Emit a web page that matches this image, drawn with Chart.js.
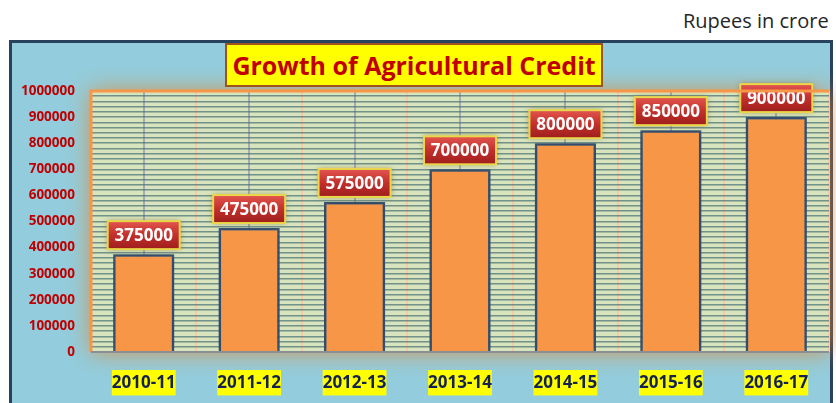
<!DOCTYPE html>
<html>
<head>
<meta charset="utf-8">
<script src="https://cdn.jsdelivr.net/npm/chart.js@4/dist/chart.umd.min.js"></script>
<style>
  body { margin: 0; width: 836px; height: 403px; overflow: hidden; background: #fff; position: relative; font-family: 'Open Sans', sans-serif; }
  #unit { position: absolute; left: 683px; top: 7px; font-size: 20px; color: #262626; }
  #panel { position: absolute; left: 9px; top: 40px; width: 818px; height: 400px; border: 3px solid #27425f; background: #93cddd; }
  #wrap { position: absolute; left: 0; top: 0; width: 836px; height: 403px; }
  #title { position: absolute; left: 225px; top: 43px; width: 374px; height: 40px; background: #ffff00; border: 2px solid #a0521e;
           color: #c00000; font: bold 25px 'Open Sans', sans-serif; text-align: center; line-height: 40px; }
</style>
</head>
<body>
<div id="unit">Rupees in crore</div>
<div id="panel"></div>
<div id="wrap"><canvas id="chart" width="836" height="403"></canvas></div>
<div id="title">Growth of Agricultural Credit</div>
<script>
"use strict";

const years = ['2010-11', '2011-12', '2012-13', '2013-14', '2014-15', '2015-16', '2016-17'];
const credit = [375000, 475000, 575000, 700000, 800000, 850000, 900000];
const yMax = 1000000;
const minorStep = 20000;
const labelStep = 100000;

// plot background with orange glow, plus frame
const plotBack = {
    id: 'plotBack',
    beforeDraw(chart) {
        const { ctx, chartArea: a } = chart;
        ctx.save();
        ctx.shadowColor = 'rgba(225,135,50,0.85)';
        ctx.shadowBlur = 22;
        ctx.fillStyle = '#d8e4bd';
        ctx.fillRect(a.left, a.top, a.right - a.left, a.bottom - a.top);
        ctx.restore();
    },
    afterDraw(chart) {
        const { ctx, chartArea: a } = chart;
        ctx.save();
        ctx.strokeStyle = '#f79646';
        ctx.lineWidth = 3;
        ctx.beginPath();
        ctx.moveTo(a.left, a.bottom);
        ctx.lineTo(a.left, a.top);
        ctx.lineTo(a.right, a.top);
        ctx.stroke();
        ctx.strokeStyle = '#8a8f96';
        ctx.lineWidth = 2;
        ctx.beginPath();
        ctx.moveTo(a.left, a.bottom);
        ctx.lineTo(a.right, a.bottom);
        ctx.stroke();
        ctx.restore();
    }
};

// bar shadow
const barShadow = {
    id: 'barShadow',
    beforeDatasetsDraw(chart) {
        const ctx = chart.ctx;
        ctx.save();
        ctx.shadowColor = 'rgba(30,50,80,0.8)';
        ctx.shadowBlur = 6;
    },
    afterDatasetsDraw(chart) {
        chart.ctx.restore();
    }
};

// red value boxes above bars
const valueBoxes = {
    id: 'valueBoxes',
    afterDatasetsDraw(chart) {
        const ctx = chart.ctx;
        const meta = chart.getDatasetMeta(0);
        meta.data.forEach((bar, i) => {
            const w = 72, h = 28;
            const x = bar.x - w / 2;
            const y = bar.y - 5 - h;
            ctx.save();
            ctx.shadowColor = 'rgba(120,100,40,0.6)';
            ctx.shadowBlur = 6;
            const g = ctx.createLinearGradient(0, y, 0, y + h);
            g.addColorStop(0, '#e2554f');
            g.addColorStop(0.5, '#c3302c');
            g.addColorStop(1, '#9d1e1c');
            ctx.fillStyle = g;
            ctx.fillRect(x, y, w, h);
            ctx.restore();
            ctx.save();
            ctx.strokeStyle = '#e9d64a';
            ctx.lineWidth = 2;
            ctx.strokeRect(x, y, w, h);
            ctx.fillStyle = '#ffffff';
            ctx.font = 'bold 17px "Open Sans"';
            ctx.textAlign = 'center';
            ctx.textBaseline = 'middle';
            ctx.fillText(String(credit[i]), bar.x, y + h / 2 + 1);
            ctx.restore();
        });
    }
};

new Chart(document.getElementById('chart'), {
    type: 'bar',
    data: {
        labels: years,
        datasets: [{
            data: credit,
            backgroundColor: '#f79646',
            borderColor: '#3d5878',
            borderWidth: 2.5,
            categoryPercentage: 1,
            barPercentage: 0.58
        }]
    },
    options: {
        responsive: false,
        animation: false,
        layout: { padding: { left: 0, top: 91, right: 7, bottom: 0 } },
        plugins: {
            legend: { display: false },
            tooltip: { enabled: false }
        },
        scales: {
            x: {
                position: 'bottom',
                grid: { offset: true, color: '#f8c9a2', lineWidth: 2, drawTicks: false },
                border: { display: false },
                ticks: {
                    padding: 21,
                    color: '#14224f',
                    font: { family: 'Open Sans', size: 17, weight: 'bold' },
                    showLabelBackdrop: true,
                    backdropColor: '#ffff00',
                    backdropPadding: { top: 3, bottom: 2, left: 0, right: 0 }
                },
                afterFit: s => { s.height = 51; }
            },
            x2: {
                type: 'category',
                position: 'top',
                labels: years,
                grid: { offset: false, color: '#a9aab2', lineWidth: 2, drawTicks: false },
                border: { display: false },
                ticks: { display: false },
                afterFit: s => { s.height = 0; }
            },
            y: {
                min: 0,
                max: yMax,
                grid: { color: 'rgba(70,110,115,0.7)', lineWidth: 1.6, drawTicks: false },
                border: { display: false },
                ticks: {
                    stepSize: minorStep,
                    autoSkip: false,
                    padding: 16,
                    color: '#c00000',
                    font: { family: 'Open Sans', size: 13.5, weight: 'bold' },
                    callback: v => (v % labelStep === 0 ? String(v) : '')
                },
                afterFit: s => { s.width = 91; }
            }
        }
    },
    plugins: [plotBack, barShadow, valueBoxes]
});
</script>
</body>
</html>
